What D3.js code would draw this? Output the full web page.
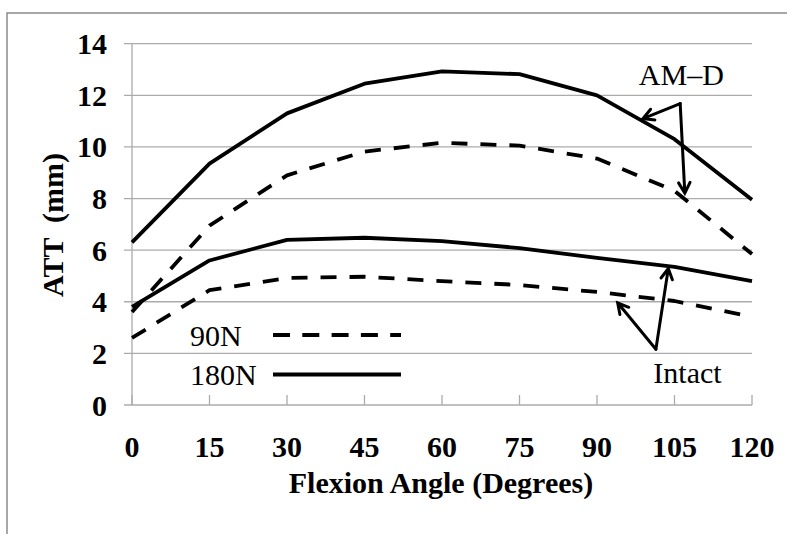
<html>
<head>
<meta charset="utf-8"/>
<script src="https://d3js.org/d3.v7.min.js"></script>
<style>
  body { margin: 0; background: #fff; }
</style>
</head>
<body>
<div id="v"></div>
<script type="text/javascript">
// flexion angles (degrees)
var angles = [0, 15, 30, 45, 60, 75, 90, 105, 120];
// ATT (mm)
var amd180 = [6.3, 9.35, 11.3, 12.45, 12.93, 12.82, 12.0, 10.3, 7.95];
var amd90 = [3.6, 6.95, 8.9, 9.82, 10.16, 10.05, 9.55, 8.3, 5.85];
var intact180 = [3.8, 5.6, 6.4, 6.48, 6.35, 6.08, 5.7, 5.35, 4.8];
var intact90 = [2.6, 4.45, 4.92, 4.97, 4.8, 4.65, 4.38, 4.03, 3.42];
var xTicks = [0, 15, 30, 45, 60, 75, 90, 105, 120];
var yTicks = [0, 2, 4, 6, 8, 10, 12, 14];

(function() {
  var width = 787, height = 534;
  var FONT = "Liberation Serif";
  var svg = d3.select("#v").append("svg")
    .attr("width", width)
    .attr("height", height)
    .attr("font-family", FONT);

  // outer frame (runs off the right and bottom edges)
  svg.append("rect")
    .attr("x", 7).attr("y", 13)
    .attr("width", 800).attr("height", 540)
    .attr("fill", "none")
    .attr("stroke", "#8a8a8a")
    .attr("stroke-width", 1.5);

  var x = d3.scaleLinear().domain([0, 120]).range([132, 752]);
  var y = d3.scaleLinear().domain([0, 14]).range([405, 43.7]);

  // gridlines
  svg.append("g").selectAll("line")
    .data(yTicks).enter()
    .append("line")
    .attr("x1", 124).attr("x2", x(120))
    .attr("y1", function(d) { return y(d); })
    .attr("y2", function(d) { return y(d); })
    .attr("stroke", "#ababab")
    .attr("stroke-width", 1.3);

  // vertical axis line
  svg.append("line")
    .attr("x1", x(0)).attr("x2", x(0))
    .attr("y1", y(14)).attr("y2", y(0))
    .attr("stroke", "#ababab").attr("stroke-width", 1.3);

  // x ticks, pointing up
  svg.append("g").selectAll("line")
    .data(xTicks).enter()
    .append("line")
    .attr("x1", function(d) { return x(d); })
    .attr("x2", function(d) { return x(d); })
    .attr("y1", y(0)).attr("y2", y(0) - 10)
    .attr("stroke", "#ababab").attr("stroke-width", 1.3);

  // tick labels
  svg.append("g").selectAll("text")
    .data(yTicks).enter()
    .append("text")
    .attr("x", 107)
    .attr("y", function(d) { return y(d) + 10.5; })
    .attr("text-anchor", "end")
    .attr("font-family", FONT)
    .attr("font-size", 30).attr("font-weight", "bold")
    .text(function(d) { return d; });

  svg.append("g").selectAll("text")
    .data(xTicks).enter()
    .append("text")
    .attr("x", function(d) { return x(d); })
    .attr("y", 457)
    .attr("text-anchor", "middle")
    .attr("font-family", FONT)
    .attr("font-size", 30).attr("font-weight", "bold")
    .text(function(d) { return d; });

  // axis titles
  svg.append("text")
    .attr("x", 441).attr("y", 493)
    .attr("text-anchor", "middle")
    .attr("font-family", FONT)
    .attr("font-size", 30).attr("font-weight", "bold")
    .text("Flexion Angle (Degrees)");

  svg.append("text")
    .attr("transform", "translate(63,225) rotate(-90)")
    .attr("text-anchor", "middle")
    .attr("font-family", FONT)
    .attr("font-size", 30).attr("font-weight", "bold")
    .style("white-space", "pre")
    .text("ATT  (mm)");

  // curves
  var line = d3.line()
    .x(function(d, i) { return x(angles[i]); })
    .y(function(d) { return y(d); });

  var series = [
    { v: amd180, dash: null },
    { v: amd90, dash: "16,13" },
    { v: intact180, dash: null },
    { v: intact90, dash: "16,13" }
  ];
  svg.append("g").selectAll("path")
    .data(series).enter()
    .append("path")
    .attr("d", function(d) { return line(d.v); })
    .attr("fill", "none")
    .attr("stroke", "#000")
    .attr("stroke-width", 3.8)
    .attr("stroke-linejoin", "round")
    .attr("stroke-dasharray", function(d) { return d.dash; });

  // legend
  var legend = [
    { label: "90N", dash: "17,12.3", ly: 335, ty: 346 },
    { label: "180N", dash: null, ly: 374.5, ty: 385 }
  ];
  var lg = svg.append("g").selectAll("g")
    .data(legend).enter().append("g");
  lg.append("text")
    .attr("x", 190).attr("y", function(d) { return d.ty; })
    .attr("font-family", FONT)
    .attr("font-size", 30)
    .text(function(d) { return d.label; });
  lg.append("line")
    .attr("x1", 273).attr("x2", 401)
    .attr("y1", function(d) { return d.ly; })
    .attr("y2", function(d) { return d.ly; })
    .attr("stroke", "#000").attr("stroke-width", 4)
    .attr("stroke-dasharray", function(d) { return d.dash; });

  // annotations (in data units)
  var notes = [
    { label: "AM\u2013D", lx: 98.1, ly: 12.4, ox: 106.1, oy: 11.68,
      tips: [[98.9, 11.1], [107.0, 8.21]] },
    { label: "Intact", lx: 100.9, ly: 0.86, ox: 101.4, oy: 2.16,
      tips: [[94.0, 3.96], [103.8, 5.29]] }
  ];
  notes.forEach(function(n) {
    svg.append("text")
      .attr("x", x(n.lx)).attr("y", y(n.ly))
      .attr("font-family", FONT)
      .attr("font-size", 30)
      .text(n.label);
    n.tips.forEach(function(t) {
      var x0 = x(n.ox), y0 = y(n.oy), x1 = x(t[0]), y1 = y(t[1]);
      var a = Math.atan2(y1 - y0, x1 - x0);
      var h = 12, s = 0.5;
      var p = "M" + x0 + "," + y0 + "L" + x1 + "," + y1 +
        "M" + (x1 - h * Math.cos(a - s)) + "," + (y1 - h * Math.sin(a - s)) +
        "L" + x1 + "," + y1 +
        "L" + (x1 - h * Math.cos(a + s)) + "," + (y1 - h * Math.sin(a + s));
      svg.append("path")
        .attr("d", p)
        .attr("fill", "none")
        .attr("stroke", "#000")
        .attr("stroke-width", 3)
        .attr("stroke-linejoin", "miter")
        .attr("stroke-linecap", "round");
    });
  });
})();
</script>
</body>
</html>
